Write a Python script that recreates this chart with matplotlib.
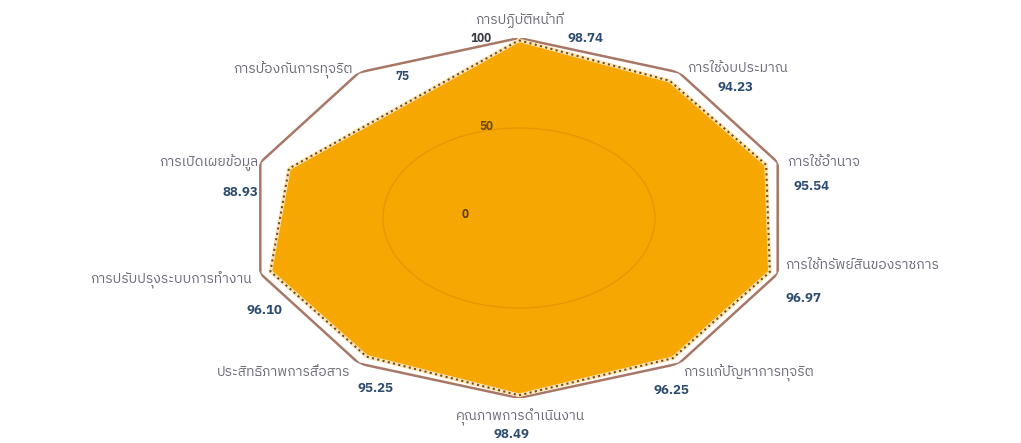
import numpy as np
import matplotlib
matplotlib.use("Agg")
import matplotlib.pyplot as plt
from matplotlib import font_manager
from matplotlib.ft2font import FT2Font

# ---------------- data ----------------
categories = [
    "การปฏิบัติหน้าที่",
    "การใช้งบประมาณ",
    "การใช้อำนาจ",
    "การใช้ทรัพย์สินของราชการ",
    "การแก้ปัญหาการทุจริต",
    "คุณภาพการดำเนินงาน",
    "ประสิทธิภาพการสื่อสาร",
    "การปรับปรุงระบบการทำงาน",
    "การเปิดเผยข้อมูล",
    "การป้องกันการทุจริต",
]
scores = [98.74, 94.23, 95.54, 96.97, 96.25, 98.49, 95.25, 96.10, 88.93, None]
max_score = 100
tick_values = [0, 50, 75, 100]

# ---------------- font with Thai glyphs ----------------
def find_thai_font():
    cands = []
    for f in font_manager.fontManager.ttflist:
        try:
            cm = FT2Font(f.fname).get_charmap()
        except Exception:
            continue
        if 0x0E01 in cm and 0x0E32 in cm and 0x0E34 in cm:
            cands.append(f.name)
    if not cands:
        return None
    pref = [c for c in cands if "Sans" in c] or cands
    return pref[0]

thai = find_thai_font()
families = [thai, "DejaVu Sans"] if thai else ["DejaVu Sans"]
plt.rcParams["font.family"] = families

# ---------------- layout ----------------
W, H = 1021, 443
fig = plt.figure(figsize=(W / 100, H / 100), dpi=100)
fig.patch.set_facecolor("white")

cx, cy, rx, ry = 519, 218, 272, 180
ax = fig.add_axes([(cx - rx) / W, (H - (cy + ry)) / H, 2 * rx / W, 2 * ry / H],
                  projection="polar")
ax.set_aspect("auto")
ax.set_theta_offset(np.pi / 2)
ax.set_theta_direction(-1)
ax.set_ylim(0, max_score)
ax.spines["polar"].set_visible(False)
ax.set_facecolor("none")

n = len(categories)
theta = np.linspace(0, 2 * np.pi, n, endpoint=False)

# outer frame at 100
ft = np.append(theta, theta[0])
fr = np.full(n + 1, max_score)
ax.plot(ft, fr, color="#A87766", lw=1.8, zorder=2)

# filled score polygon (missing values skipped)
vt = [t for t, s in zip(theta, scores) if s is not None]
vs = [s for s in scores if s is not None]
vt_c = vt + [vt[0]]
vs_c = vs + [vs[0]]
ax.fill(vt_c, vs_c, color="#F6A702", zorder=2.2)
ax.plot(vt_c, vs_c, color="#FCE6B8", lw=2.6, zorder=4)
ax.plot(vt_c, vs_c, color="#7A4A12", lw=1.5, ls=(0, (1, 1.6)), zorder=5)

# faint grid circle inside the fill
ax.set_rgrids([50], labels=[""])
ax.set_thetagrids([], labels=[])
ax.grid(True, color="#D98400", lw=0.9, alpha=0.5)
ax.set_axisbelow(False)
ax.tick_params(length=0)

# ---------------- text ----------------
def px(x, y):
    return x / W, 1 - y / H

label_pos = [
    (520, 20, "center"),
    (687, 68, "left"),
    (787, 162, "left"),
    (785, 265, "left"),
    (683, 373, "left"),
    (520, 417, "center"),
    (350, 372, "right"),
    (252, 280, "right"),
    (258, 163, "right"),
    (353, 70, "right"),
]
value_pos = [
    (567, 38, "left"),
    (717, 88, "left"),
    (793, 187, "left"),
    (785, 298, "left"),
    (653, 390, "left"),
    (511, 435, "center"),
    (393, 388, "right"),
    (282, 310, "right"),
    (258, 192, "right"),
    None,
]
label_color = "#6B6B7A"
value_color = "#2B4A70"

for name, lp in zip(categories, label_pos):
    x, y = px(lp[0], lp[1])
    fig.text(x, y, name, ha=lp[2], va="center", fontsize=10,
             color=label_color, zorder=10)

for s, vp in zip(scores, value_pos):
    if s is None or vp is None:
        continue
    x, y = px(vp[0], vp[1])
    fig.text(x, y, f"{s:.2f}", ha=vp[2], va="center", fontsize=9.5,
             fontweight="bold", color=value_color, zorder=10)

tick_pos = [(465, 215, "#5A3A10"), (486, 127, "#6B4A10"),
            (402, 77, "#2B4A70"), (481, 38, "#3A3A48")]
for tv, tp in zip(tick_values, tick_pos):
    x, y = px(tp[0], tp[1])
    fig.text(x, y, str(tv), ha="center", va="center", fontsize=8.5,
             fontweight="bold", color=tp[2], zorder=10)

fig.savefig("out.png", dpi=100, facecolor="white")
